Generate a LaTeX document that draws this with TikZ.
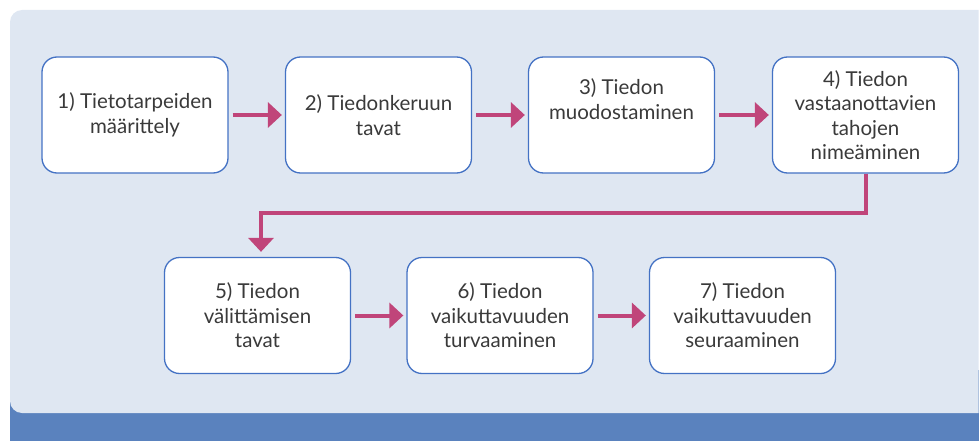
\documentclass[tikz,border=0pt]{standalone}
\usepackage{fontspec}
\setmainfont{Lato}
\usetikzlibrary{arrows.meta}
\definecolor{bglight}{HTML}{DFE7F2}
\definecolor{bandblue}{HTML}{5A82BE}
\definecolor{boxline}{HTML}{4472C4}
\definecolor{arrowc}{HTML}{C0457A}
\definecolor{txt}{HTML}{3A3A3A}
\tikzset{
  stepbox/.style={draw=boxline, line width=1.3pt, fill=white, rounded corners=15pt,
    minimum width=186pt, minimum height=116pt, inner sep=0pt, align=center,
    text=txt, font=\fontsize{20.5pt}{24.5pt}\selectfont},
  flow/.style={draw=arrowc, line width=4pt, -{Triangle[length=14pt,width=25pt]},
    shorten <=4pt, shorten >=3pt}
}
\begin{document}
\begin{tikzpicture}[x=1pt,y=-1pt]
\useasboundingbox (0,0) rectangle (979,441);
\begin{scope}
\clip (0,0) rectangle (979,441);
\fill[bandblue] (990,370) -- (10,370) [rounded corners=12pt] -- (10,455) [sharp corners] -- (990,455) -- cycle;
\fill[bglight] (978.5,10) [rounded corners=12pt] -- (10,10) -- (10,413) [sharp corners] -- (978.5,413) -- cycle;
\end{scope}
\node[stepbox] (b1) at (135,115) {1) Tietotarpeiden\\määrittely};
\node[stepbox] (b2) at (378.5,115) {2) Tiedonkeruun\\tavat};
\node[stepbox] (b3) at (621.5,115) {3) Tiedon\\muodostaminen\\\strut};
\node[stepbox] (b4) at (865.5,115) {4) Tiedon\\vastaanottavien\\tahojen\\nimeäminen};
\node[stepbox] (b5) at (257.5,315.5) {5) Tiedon\\välittämisen\\tavat};
\node[stepbox] (b6) at (500,315.5) {6) Tiedon\\vaikuttavuuden\\turvaaminen};
\node[stepbox] (b7) at (742.5,315.5) {7) Tiedon\\vaikuttavuuden\\seuraaminen};
\coordinate (bend) at (261,213);
\draw[flow] (b1) -- (b2);
\draw[flow] (b2) -- (b3);
\draw[flow] (b3) -- (b4);
\draw[flow, shorten <=0pt, shorten >=5pt] (b4.south) |- (bend) -- (bend |- b5.north);
\draw[flow] (b5) -- (b6);
\draw[flow] (b6) -- (b7);
\end{tikzpicture}
\end{document}
